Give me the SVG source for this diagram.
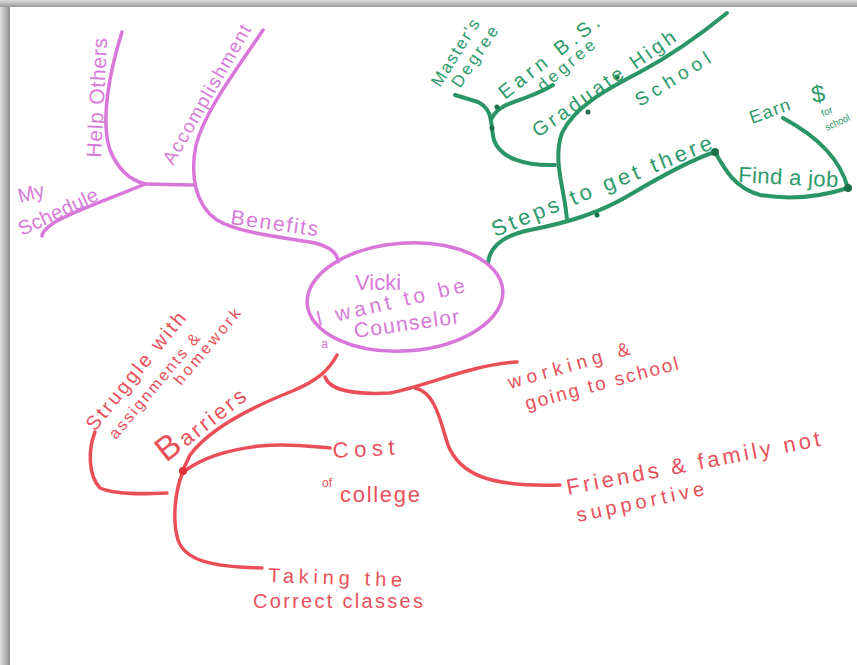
<svg xmlns="http://www.w3.org/2000/svg" width="857" height="665" viewBox="0 0 857 665">
<defs>
<linearGradient id="shL" x1="0" y1="0" x2="1" y2="0"><stop offset="0" stop-color="#e2e2e2"/><stop offset="1" stop-color="#8e8e8e"/></linearGradient>
<linearGradient id="shT" x1="0" y1="0" x2="0" y2="1"><stop offset="0" stop-color="#dcdcdc"/><stop offset="1" stop-color="#9a9a9a"/></linearGradient>
</defs>
<style>
text{font-family:"Liberation Sans","DejaVu Sans",sans-serif;}
.pk{fill:#d77bd8;}
.gr{fill:#2b9a6a;}
.rd{fill:#e9505a;}
.cp{fill:none;stroke:#d877d9;stroke-width:3.5;stroke-linecap:round;stroke-linejoin:round;}
.cg{fill:none;stroke:#2a9667;stroke-width:4;stroke-linecap:round;stroke-linejoin:round;}
.cr{fill:none;stroke:#ea4f58;stroke-width:3.5;stroke-linecap:round;stroke-linejoin:round;}
.dg{fill:#1f6e4a;}
</style>
<rect x="0" y="0" width="857" height="665" fill="#c4c4c4"/>
<rect x="0" y="0" width="10" height="665" fill="url(#shL)"/>
<rect x="0" y="0" width="857" height="7" fill="url(#shT)"/>
<rect x="10" y="7" width="847" height="658" fill="#ffffff"/>

<g id="connectors">
<path class="cp" d="M122,32 C110,70 100,120 110,150 C118,170 130,180 145,184"/>
<path class="cp" d="M145,184 L193,185"/>
<path class="cp" d="M145,184 C120,195 80,208 55,222 C46,228 42,232 42,236"/>
<path class="cp" d="M263,30 C240,65 205,110 196,145 C190,175 195,205 217,220 C240,234 290,238 315,243 C330,247 338,254 338,262"/>
<path class="cg" d="M488,263 C490,245 505,235 530,230 C570,222 600,213 633,193 C660,177 690,160 715,152"/>
<path class="cg" d="M567,220 C565,190 552,160 562,133 C575,105 610,88 640,72 C670,56 700,35 727,13"/>
<path class="cg" d="M555,165 C525,166 500,158 494,140 C490,125 494,110 478,102 L455,95"/>
<path class="cg" d="M492,118 C498,105 515,102 530,96 C540,92 548,88 553,85"/>
<path class="cg" d="M715,152 C725,170 735,188 760,195 C790,200 820,197 848,188"/>
<path class="cg" d="M848,188 C840,160 820,138 783,118"/>
<circle class="dg" cx="715" cy="152" r="4"/>
<circle class="dg" cx="848" cy="188" r="4"/>
<circle class="dg" cx="497" cy="107" r="2.5"/>
<circle class="dg" cx="492" cy="128" r="2.5"/>
<circle class="dg" cx="588" cy="112" r="2.5"/>
<circle class="dg" cx="617" cy="77" r="2.5"/>
<circle class="dg" cx="597" cy="215" r="2.5"/>
<path class="cr" d="M337,355 C330,368 320,380 290,392 C250,408 210,428 190,455 L183,470"/>
<path class="cr" d="M186,470 C200,460 225,450 260,446 C290,443 315,447 330,448"/>
<path class="cr" d="M183,472 C175,490 172,520 178,540 C185,560 210,567 262,568"/>
<path class="cr" d="M95,432 C88,450 88,475 100,488 C115,495 145,494 167,493"/>
<path class="cr" d="M325,377 C330,390 350,395 390,393 C430,385 470,365 517,362"/>
<path class="cr" d="M415,388 C435,392 440,420 448,445 C460,475 490,487 560,485"/>
<circle cx="183" cy="471" r="4" fill="#e0303c"/>
</g>

<g id="center">
<ellipse cx="405" cy="297" rx="98" ry="54" transform="rotate(-4 405 297)" fill="none" stroke="#d877d9" stroke-width="3.5"/>
<text class="pk" x="378" y="290" font-size="22" text-anchor="middle">Vicki</text>
<text class="pk" transform="translate(318,326) rotate(-13)" font-size="21" textLength="152" lengthAdjust="spacing">I want to be</text>
<text class="pk" transform="translate(355,338) rotate(-8)" font-size="21" textLength="106" lengthAdjust="spacing">Counselor</text>
<text class="pk" x="321" y="348" font-size="13">a</text>
</g>

<g id="benefits"><text class="pk" transform="translate(230,224) rotate(8)" font-size="21" textLength="88" lengthAdjust="spacing">Benefits</text></g>
<g id="help-others"><text class="pk" transform="translate(101,158) rotate(-87)" font-size="21" textLength="120" lengthAdjust="spacing">Help Others</text></g>
<g id="my-schedule">
<text class="pk" transform="translate(20,203) rotate(-15)" font-size="20">My</text>
<text class="pk" transform="translate(22,236) rotate(-25)" font-size="20" textLength="86" lengthAdjust="spacing">Schedule</text>
</g>
<g id="accomplishment"><text class="pk" transform="translate(173,166) rotate(-60)" font-size="19" textLength="158" lengthAdjust="spacing">Accomplishment</text></g>

<g id="steps"><text class="gr" transform="translate(495,237) rotate(-22)" font-size="22" textLength="236" lengthAdjust="spacing">Steps to get there</text></g>
<g id="masters">
<text class="gr" transform="translate(440,88) rotate(-58)" font-size="17" textLength="76" lengthAdjust="spacing">Master's</text>
<text class="gr" transform="translate(460,89) rotate(-56)" font-size="17" textLength="70" lengthAdjust="spacing">Degree</text>
</g>
<g id="earn-bs">
<text class="gr" transform="translate(505,100) rotate(-38)" font-size="20" textLength="122" lengthAdjust="spacing">Earn B.S.</text>
<text class="gr" transform="translate(543,92) rotate(-40)" font-size="17" textLength="70" lengthAdjust="spacing">degree</text>
</g>
<g id="graduate">
<text class="gr" transform="translate(538,138) rotate(-35)" font-size="20" textLength="170" lengthAdjust="spacing">Graduate High</text>
<text class="gr" transform="translate(640,107) rotate(-32)" font-size="19" textLength="85" lengthAdjust="spacing">School</text>
</g>
<g id="find-job"><text class="gr" transform="translate(738,182) rotate(3)" font-size="22" textLength="100" lengthAdjust="spacing">Find a job</text></g>
<g id="earn-money">
<text class="gr" transform="translate(752,124) rotate(-20)" font-size="18" textLength="42" lengthAdjust="spacing">Earn</text>
<text class="gr" transform="translate(813,103) rotate(-10)" font-size="24">$</text>
<text class="gr" transform="translate(823,117) rotate(-25)" font-size="10">for</text>
<text class="gr" transform="translate(827,131) rotate(-25)" font-size="10" textLength="26" lengthAdjust="spacingAndGlyphs">school</text>
</g>

<g id="barriers"><text class="rd" transform="translate(166,463) rotate(-38)" font-size="22" textLength="104" lengthAdjust="spacing"><tspan font-size="34">B</tspan>arriers</text></g>
<g id="struggle">
<text class="rd" transform="translate(95,432) rotate(-51)" font-size="20" textLength="146" lengthAdjust="spacing">Struggle with</text>
<text class="rd" transform="translate(116,440) rotate(-50)" font-size="16" textLength="132" lengthAdjust="spacing">assignments &amp;</text>
<text class="rd" transform="translate(181,386) rotate(-50)" font-size="16" textLength="94" lengthAdjust="spacing">homework</text>
</g>
<g id="cost">
<text class="rd" transform="translate(333,458) rotate(-3)" font-size="22" textLength="62" lengthAdjust="spacing">Cost</text>
<text class="rd" x="322" y="487" font-size="12">of</text>
<text class="rd" x="340" y="502" font-size="22" textLength="80" lengthAdjust="spacing">college</text>
</g>
<g id="taking">
<text class="rd" transform="translate(268,582) rotate(2)" font-size="20" textLength="134" lengthAdjust="spacing">Taking the</text>
<text class="rd" x="253" y="608" font-size="20" textLength="170" lengthAdjust="spacing">Correct classes</text>
</g>
<g id="working">
<text class="rd" transform="translate(510,389) rotate(-16)" font-size="19" textLength="126" lengthAdjust="spacing">working &amp;</text>
<text class="rd" transform="translate(527,410) rotate(-15)" font-size="19" textLength="158" lengthAdjust="spacing">going to school</text>
</g>
<g id="friends">
<text class="rd" transform="translate(568,495) rotate(-11)" font-size="22" textLength="258" lengthAdjust="spacing">Friends &amp; family not</text>
<text class="rd" transform="translate(578,522) rotate(-12)" font-size="20" textLength="130" lengthAdjust="spacing">supportive</text>
</g>
</svg>
